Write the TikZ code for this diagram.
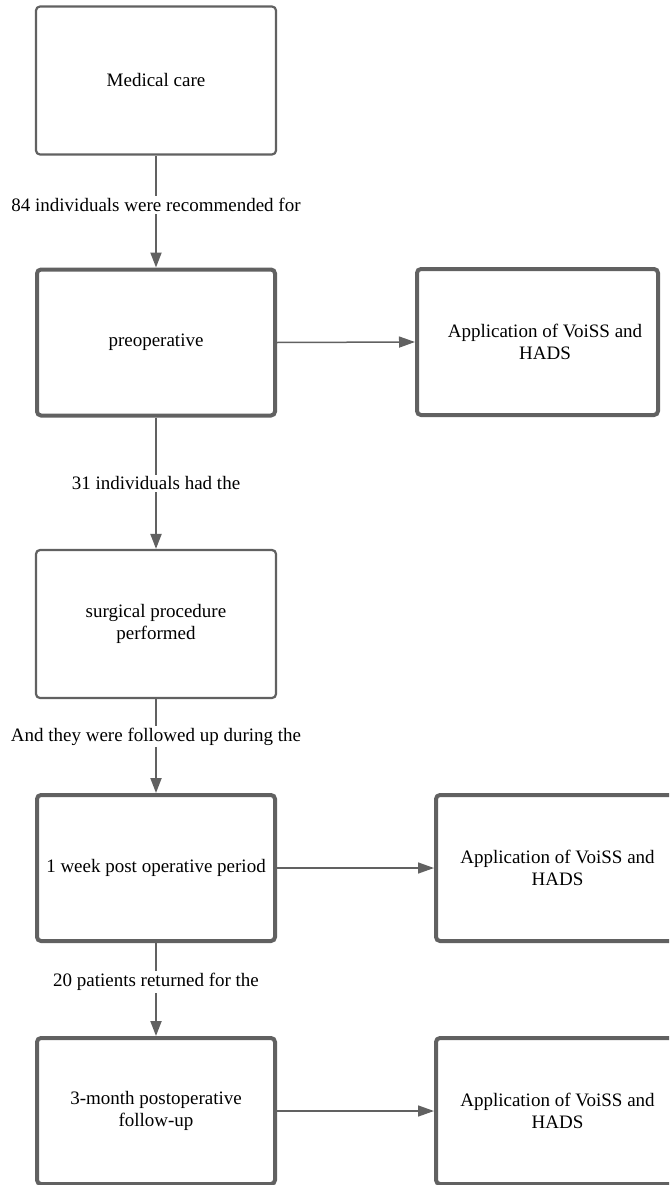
\documentclass[tikz,border=0pt]{standalone}
\usepackage{fontspec}
\setmainfont{Liberation Serif}
\usetikzlibrary{arrows.meta}
\definecolor{lc}{HTML}{616161}
\begin{document}
\begin{tikzpicture}[x=1pt,y=-1pt,
  font=\fontsize{19}{22.5}\selectfont,
  thinbox/.style={draw=lc, line width=2.2pt, rounded corners=4pt, minimum width=240pt, minimum height=148pt, align=center, inner sep=0pt, fill=white},
  thickbox/.style={thinbox, line width=4pt, minimum width=238pt, minimum height=146pt},
  arr/.style={draw=lc, line width=2pt, -{Triangle[length=15pt,width=11pt]}},
  harr/.style={draw=lc, line width=1.5pt, -{Triangle[length=16pt,width=11pt]}},
  lab/.style={fill=white, inner sep=2pt}]
\useasboundingbox (0,0) rectangle (669,1185);
\clip (0,0) rectangle (669,1185);
\node[thinbox] (mc) at (156,80.5) {Medical care};
\node[thickbox] (pre) at (156,342.5) {preoperative};
\node[thickbox, minimum width=241pt] (r1) at (537.5,342) {\hspace*{15pt}Application of VoiSS and\\\hspace*{15pt}HADS};
\node[thinbox] (surg) at (156,624) {surgical procedure\\performed};
\node[thickbox] (wk) at (156,868) {1 week post operative period};
\node[thickbox, minimum width=243pt] (r2) at (557.5,868) {Application of VoiSS and\\HADS};
\node[thickbox] (m3) at (156,1111) {3-month postoperative\\follow-up};
\node[thickbox, minimum width=243pt] (r3) at (557.5,1111) {Application of VoiSS and\\HADS};
\draw[arr] (mc.south) -- (pre.north) node[lab, pos=0.44] {84 individuals were recommended for};
\draw[arr] (pre.south) -- (surg.north) node[lab, pos=0.5] {31 individuals had the};
\draw[arr] (surg.south) -- (wk.north) node[lab, pos=0.4] {And they were followed up during the};
\draw[arr] (wk.south) -- (m3.north) node[lab, pos=0.42] {20 patients returned for the};
\draw[harr] (pre.east) -- (r1.west);
\draw[harr] (wk.east) -- (r2.west);
\draw[harr] (m3.east) -- (r3.west);
\end{tikzpicture}
\end{document}
